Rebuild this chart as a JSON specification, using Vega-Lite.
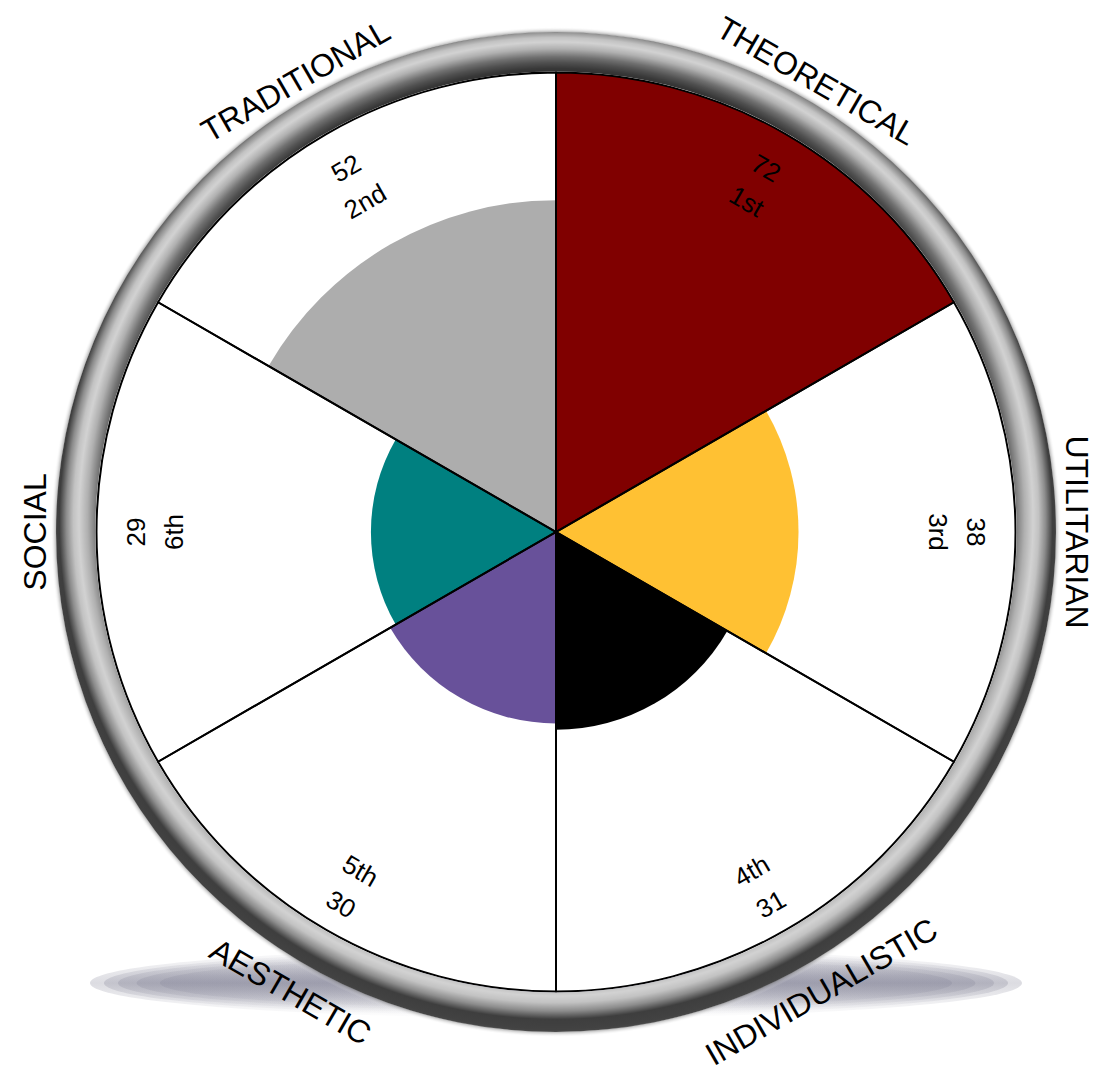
{
  "$schema": "https://vega.github.io/schema/vega-lite/v6.json",
  "width": 1086,
  "height": 1064,
  "autosize": {"type": "none"},
  "padding": {"left": 13, "top": 0, "right": 0, "bottom": 1},
  "background": "white",
  "config": {"view": {"stroke": null}, "text": {"font": "Liberation Sans"}},
  "data": {
    "values": [
      {"category": "THEORETICAL", "score": 72, "rank": "1st", "order": 1},
      {"category": "UTILITARIAN", "score": 38, "rank": "3rd", "order": 2},
      {"category": "INDIVIDUALISTIC", "score": 31, "rank": "4th", "order": 3},
      {"category": "AESTHETIC", "score": 30, "rank": "5th", "order": 4},
      {"category": "SOCIAL", "score": 29, "rank": "6th", "order": 5},
      {"category": "TRADITIONAL", "score": 52, "rank": "2nd", "order": 6}
    ]
  },
  "layer": [
    {
      "data": {"values": [{"part": "shadow"}]},
      "mark": {"type": "point", "filled": true, "strokeWidth": 0, "opacity": 0.3, "size": 868624,
        "fill": {"gradient": "linear", "x1": 0, "y1": 0, "x2": 0, "y2": 1, "stops": [{"offset": 0, "color": "rgba(138,138,156,0)"}, {"offset": 0.5, "color": "rgba(138,138,156,1)"}, {"offset": 1, "color": "rgba(138,138,156,0)"}]},
        "shape": "M-1,0.968C-1,0.9266 -0.5523,0.893 0,0.893C0.5523,0.893 1,0.9266 1,0.968C1,1.0094 0.5523,1.043 0,1.043C-0.5523,1.043 -1,1.0094 -1,0.968Z"},
      "encoding": {}
    },
    {
      "data": {"values": [{"part": "shadow"}]},
      "mark": {"type": "point", "filled": true, "strokeWidth": 0, "opacity": 0.3, "size": 868624,
        "fill": {"gradient": "linear", "x1": 0, "y1": 0, "x2": 0, "y2": 1, "stops": [{"offset": 0, "color": "rgba(138,138,156,0)"}, {"offset": 0.5, "color": "rgba(138,138,156,1)"}, {"offset": 1, "color": "rgba(138,138,156,0)"}]},
        "shape": "M-0.97,0.968C-0.97,0.9293 -0.5357,0.898 0,0.898C0.5357,0.898 0.97,0.9293 0.97,0.968C0.97,1.0067 0.5357,1.038 0,1.038C-0.5357,1.038 -0.97,1.0067 -0.97,0.968Z"},
      "encoding": {}
    },
    {
      "data": {"values": [{"part": "shadow"}]},
      "mark": {"type": "point", "filled": true, "strokeWidth": 0, "opacity": 0.3, "size": 868624,
        "fill": {"gradient": "linear", "x1": 0, "y1": 0, "x2": 0, "y2": 1, "stops": [{"offset": 0, "color": "rgba(138,138,156,0)"}, {"offset": 0.5, "color": "rgba(138,138,156,1)"}, {"offset": 1, "color": "rgba(138,138,156,0)"}]},
        "shape": "M-0.94,0.968C-0.94,0.9321 -0.5192,0.903 0,0.903C0.5192,0.903 0.94,0.9321 0.94,0.968C0.94,1.0039 0.5192,1.033 0,1.033C-0.5192,1.033 -0.94,1.0039 -0.94,0.968Z"},
      "encoding": {}
    },
    {
      "data": {"values": [{"part": "shadow"}]},
      "mark": {"type": "point", "filled": true, "strokeWidth": 0, "opacity": 0.3, "size": 868624,
        "fill": {"gradient": "linear", "x1": 0, "y1": 0, "x2": 0, "y2": 1, "stops": [{"offset": 0, "color": "rgba(138,138,156,0)"}, {"offset": 0.5, "color": "rgba(138,138,156,1)"}, {"offset": 1, "color": "rgba(138,138,156,0)"}]},
        "shape": "M-0.9,0.968C-0.9,0.9349 -0.4971,0.908 0,0.908C0.4971,0.908 0.9,0.9349 0.9,0.968C0.9,1.0011 0.4971,1.028 0,1.028C-0.4971,1.028 -0.9,1.0011 -0.9,0.968Z"},
      "encoding": {}
    },
    {
      "data": {"values": [{"part": "shadow"}]},
      "mark": {"type": "point", "filled": true, "strokeWidth": 0, "opacity": 0.3, "size": 868624,
        "fill": {"gradient": "linear", "x1": 0, "y1": 0, "x2": 0, "y2": 1, "stops": [{"offset": 0, "color": "rgba(138,138,156,0)"}, {"offset": 0.5, "color": "rgba(138,138,156,1)"}, {"offset": 1, "color": "rgba(138,138,156,0)"}]},
        "shape": "M-0.85,0.968C-0.85,0.9376 -0.4695,0.913 0,0.913C0.4695,0.913 0.85,0.9376 0.85,0.968C0.85,0.9984 0.4695,1.023 0,1.023C-0.4695,1.023 -0.85,0.9984 -0.85,0.968Z"},
      "encoding": {}
    },
    {
      "mark": {"type": "arc", "fill": "#ffffff", "stroke": null},
      "encoding": {
        "theta": {"aggregate": "count", "type": "quantitative", "stack": true},
        "order": {"field": "order", "type": "quantitative"},
        "detail": {"field": "category", "type": "nominal"},
        "radius": {"datum": 72, "type": "quantitative", "scale": {"type": "linear", "domain": [0, 72], "range": [0, 459.5], "zero": true}}
      }
    },
    {
      "transform": [
        {"joinaggregate": [{"op": "count", "as": "n"}], "groupby": ["category"]},
        {"stack": "n", "groupby": [], "sort": [{"field": "order", "order": "ascending"}], "as": ["a0", "a1"]}
      ],
      "mark": {"type": "arc", "stroke": null},
      "encoding": {
        "theta": {"field": "a0", "type": "quantitative", "stack": false},
        "theta2": {"field": "a1"},
        "radius": {"field": "score", "type": "quantitative", "scale": {"type": "linear", "domain": [0, 72], "range": [0, 459.5], "zero": true}},
        "color": {
          "field": "category", "type": "nominal", "legend": null,
          "scale": {
            "domain": ["THEORETICAL", "UTILITARIAN", "INDIVIDUALISTIC", "AESTHETIC", "SOCIAL", "TRADITIONAL"],
            "range": ["#800000", "#FFC133", "#000000", "#68519A", "#008080", "#ADADAD"]
          }
        }
      }
    },
    {
      "mark": {"type": "arc", "fillOpacity": 0, "stroke": "#000000", "strokeWidth": 2},
      "encoding": {
        "theta": {"aggregate": "count", "type": "quantitative", "stack": true},
        "order": {"field": "order", "type": "quantitative"},
        "detail": {"field": "category", "type": "nominal"},
        "radius": {"datum": 72, "type": "quantitative", "scale": {"type": "linear", "domain": [0, 72], "range": [0, 459.5], "zero": true}}
      }
    },
    {
      "data": {"values": [{"part": "ring"}]},
      "mark": {
        "type": "arc", "theta": 0, "theta2": 6.283185,
        "fill": {
          "gradient": "radial", "x1": 0.5, "y1": 0.474, "r1": 0.407, "x2": 0.5, "y2": 0.5, "r2": 0.547,
          "stops": [
            {"offset": 0, "color": "#262626"},
            {"offset": 0.22, "color": "#2e2e2e"},
            {"offset": 0.27, "color": "#383838"},
            {"offset": 0.32, "color": "#505050"},
            {"offset": 0.37, "color": "#707070"},
            {"offset": 0.44, "color": "#b0b0b0"},
            {"offset": 0.5, "color": "#d2d2d2"},
            {"offset": 0.54, "color": "#c2c2c2"},
            {"offset": 0.59, "color": "#8c8c8c"},
            {"offset": 0.64, "color": "#3e3e3e"},
            {"offset": 0.7, "color": "#424242"},
            {"offset": 0.76, "color": "#585858"},
            {"offset": 1, "color": "#666666"}
          ]
        }
      },
      "encoding": {
        "radius": {"datum": 78.35, "type": "quantitative", "scale": {"type": "linear", "domain": [0, 72], "range": [0, 459.5], "zero": true}},
        "radius2": {"datum": 72.16}
      }
    },
    {
      "data": {"values": [{"part": "halo"}]},
      "mark": {
        "type": "arc", "theta": 0, "theta2": 6.283185,
        "fill": {
          "gradient": "radial", "x1": 0.5, "y1": 0.5, "r1": 0.495, "x2": 0.5, "y2": 0.5, "r2": 0.5,
          "stops": [
            {"offset": 0, "color": "rgba(120,120,120,0.5)"},
            {"offset": 1, "color": "rgba(255,255,255,0)"}
          ]
        }
      },
      "encoding": {
        "radius": {"datum": 79.13, "type": "quantitative", "scale": {"type": "linear", "domain": [0, 72], "range": [0, 459.5], "zero": true}},
        "radius2": {"datum": 78.3}
      }
    },
    {
      "mark": {"type": "text", "fontSize": 26, "dy": 5.8, "baseline": "middle", "align": "center", "color": "#000000"},
      "encoding": {
        "theta": {"aggregate": "count", "type": "quantitative", "stack": true},
        "order": {"field": "order", "type": "quantitative"},
        "detail": {"field": "category", "type": "nominal"},
        "radius": {"datum": 66.59, "type": "quantitative", "scale": {"type": "linear", "domain": [0, 72], "range": [0, 459.5], "zero": true}},
        "text": {"field": "score", "type": "quantitative"},
        "angle": {
          "field": "category", "type": "ordinal", "legend": null,
          "scale": {"type": "ordinal", "domain": ["THEORETICAL", "UTILITARIAN", "INDIVIDUALISTIC", "AESTHETIC", "SOCIAL", "TRADITIONAL"], "range": [30, 90, -30, 30, -90, -30]}
        }
      }
    },
    {
      "mark": {"type": "text", "fontSize": 26, "dy": 5.8, "baseline": "middle", "align": "center", "color": "#000000"},
      "encoding": {
        "theta": {"aggregate": "count", "type": "quantitative", "stack": true},
        "order": {"field": "order", "type": "quantitative"},
        "detail": {"field": "category", "type": "nominal"},
        "radius": {"datum": 60.56, "type": "quantitative", "scale": {"type": "linear", "domain": [0, 72], "range": [0, 459.5], "zero": true}},
        "text": {"field": "rank", "type": "nominal"},
        "angle": {
          "field": "category", "type": "ordinal", "legend": null,
          "scale": {"type": "ordinal", "domain": ["THEORETICAL", "UTILITARIAN", "INDIVIDUALISTIC", "AESTHETIC", "SOCIAL", "TRADITIONAL"], "range": [30, 90, -30, 30, -90, -30]}
        }
      }
    },
    {
      "mark": {"type": "text", "fontSize": 32, "dy": 6, "baseline": "middle", "align": "center", "color": "#000000"},
      "encoding": {
        "theta": {"aggregate": "count", "type": "quantitative", "stack": true},
        "order": {"field": "order", "type": "quantitative"},
        "detail": {"field": "category", "type": "nominal"},
        "radius": {"datum": 82.4, "type": "quantitative", "scale": {"type": "linear", "domain": [0, 72], "range": [0, 459.5], "zero": true}},
        "text": {"field": "category", "type": "nominal"},
        "angle": {
          "field": "category", "type": "ordinal", "legend": null,
          "scale": {"type": "ordinal", "domain": ["THEORETICAL", "UTILITARIAN", "INDIVIDUALISTIC", "AESTHETIC", "SOCIAL", "TRADITIONAL"], "range": [30, 90, -30, 30, -90, -30]}
        }
      }
    }
  ]
}
